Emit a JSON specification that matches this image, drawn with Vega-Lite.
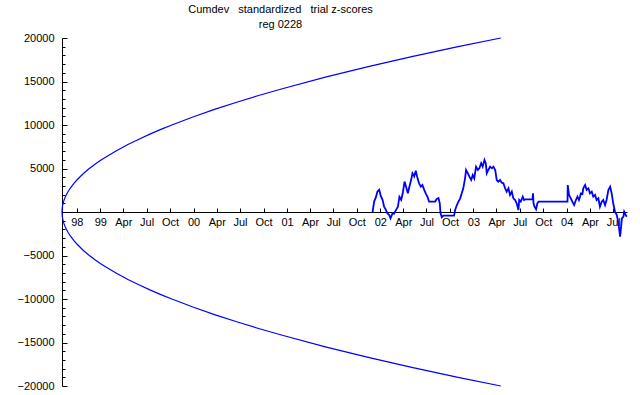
{
  "$schema": "https://vega.github.io/schema/vega-lite/v6.json",
  "width": 565,
  "height": 348,
  "autosize": {"type": "none"},
  "padding": {"left": 62, "top": 38, "right": 13, "bottom": 9},
  "background": "white",
  "config": {
    "view": {"stroke": null},
    "font": "Liberation Sans",
    "axis": {"grid": false, "domainColor": "black", "tickColor": "black", "labelColor": "black", "labelFontSize": 11, "labelFont": "Liberation Sans", "title": null, "labelOverlap": false, "labelFlush": false, "labelBound": false},
    "axisX": {"tickSize": -4, "labelPadding": 8, "offset": -174},
    "axisY": {"labelPadding": 13}
  },
  "title": {
    "text": "Cumdev\u00a0\u00a0 standardized\u00a0\u00a0 trial z-scores",
    "subtitle": "reg 0228",
    "fontSize": 11, "subtitleFontSize": 11, "fontWeight": "normal",
    "font": "Liberation Sans", "subtitleFont": "Liberation Sans",
    "color": "black", "subtitleColor": "black",
    "anchor": "middle", "dx": -64, "offset": 2, "subtitlePadding": 4
  },
  "datasets": {
    "env": [
      {"date": "1998-08-04", "hi": 0, "lo": 0},
      {"date": "1998-08-05", "hi": 483, "lo": -483},
      {"date": "1998-08-07", "hi": 836, "lo": -836},
      {"date": "1998-08-09", "hi": 1079, "lo": -1079},
      {"date": "1998-08-12", "hi": 1365, "lo": -1365},
      {"date": "1998-08-16", "hi": 1672, "lo": -1672},
      {"date": "1998-08-21", "hi": 1989, "lo": -1989},
      {"date": "1998-08-29", "hi": 2413, "lo": -2413},
      {"date": "1998-09-07", "hi": 2814, "lo": -2814},
      {"date": "1998-09-19", "hi": 3273, "lo": -3273},
      {"date": "1998-10-03", "hi": 3738, "lo": -3738},
      {"date": "1998-10-29", "hi": 4475, "lo": -4475},
      {"date": "1998-11-19", "hi": 4991, "lo": -4991},
      {"date": "1998-12-11", "hi": 5480, "lo": -5480},
      {"date": "1999-01-01", "hi": 5910, "lo": -5910},
      {"date": "1999-01-23", "hi": 6328, "lo": -6328},
      {"date": "1999-03-07", "hi": 7075, "lo": -7075},
      {"date": "1999-04-19", "hi": 7750, "lo": -7750},
      {"date": "1999-06-01", "hi": 8371, "lo": -8371},
      {"date": "1999-07-14", "hi": 8949, "lo": -8949},
      {"date": "1999-08-26", "hi": 9492, "lo": -9492},
      {"date": "1999-10-08", "hi": 10006, "lo": -10006},
      {"date": "2000-01-01", "hi": 10950, "lo": -10950},
      {"date": "2000-03-26", "hi": 11819, "lo": -11819},
      {"date": "2000-06-21", "hi": 12647, "lo": -12647},
      {"date": "2000-09-15", "hi": 13416, "lo": -13416},
      {"date": "2000-12-10", "hi": 14142, "lo": -14142},
      {"date": "2001-05-31", "hi": 15494, "lo": -15494},
      {"date": "2001-11-19", "hi": 16736, "lo": -16736},
      {"date": "2002-05-09", "hi": 17886, "lo": -17886},
      {"date": "2002-10-28", "hi": 18972, "lo": -18972},
      {"date": "2003-04-18", "hi": 20000, "lo": -20000}
    ],
    "cum": [
      {"date": "2001-12-02", "z": 0},
      {"date": "2001-12-08", "z": 1200},
      {"date": "2001-12-15", "z": 1700},
      {"date": "2001-12-21", "z": 2350},
      {"date": "2001-12-28", "z": 2550},
      {"date": "2002-01-03", "z": 1850},
      {"date": "2002-01-10", "z": 1400},
      {"date": "2002-01-16", "z": 600},
      {"date": "2002-01-23", "z": 250},
      {"date": "2002-01-29", "z": -150},
      {"date": "2002-02-05", "z": -350},
      {"date": "2002-02-10", "z": -730},
      {"date": "2002-02-18", "z": -150},
      {"date": "2002-02-24", "z": -200},
      {"date": "2002-03-04", "z": 250},
      {"date": "2002-03-11", "z": 600},
      {"date": "2002-03-17", "z": 1750},
      {"date": "2002-03-24", "z": 1400},
      {"date": "2002-03-30", "z": 2150},
      {"date": "2002-04-06", "z": 3500},
      {"date": "2002-04-12", "z": 2900},
      {"date": "2002-04-19", "z": 2150},
      {"date": "2002-04-25", "z": 2900},
      {"date": "2002-05-02", "z": 3700},
      {"date": "2002-05-07", "z": 4450},
      {"date": "2002-05-14", "z": 4100},
      {"date": "2002-05-20", "z": 4750},
      {"date": "2002-05-27", "z": 3870},
      {"date": "2002-06-02", "z": 3300},
      {"date": "2002-06-09", "z": 2900},
      {"date": "2002-06-15", "z": 3100},
      {"date": "2002-06-22", "z": 2550},
      {"date": "2002-06-28", "z": 2150},
      {"date": "2002-07-05", "z": 1750},
      {"date": "2002-07-11", "z": 1200},
      {"date": "2002-08-04", "z": 1200},
      {"date": "2002-08-10", "z": 1500},
      {"date": "2002-08-17", "z": 1600},
      {"date": "2002-08-22", "z": 1000},
      {"date": "2002-08-25", "z": -150},
      {"date": "2002-08-30", "z": -600},
      {"date": "2002-09-05", "z": -420},
      {"date": "2002-10-17", "z": -420},
      {"date": "2002-10-21", "z": 230},
      {"date": "2002-10-28", "z": 800},
      {"date": "2002-11-03", "z": 1200},
      {"date": "2002-11-10", "z": 1570},
      {"date": "2002-11-16", "z": 2150},
      {"date": "2002-11-22", "z": 2720},
      {"date": "2002-11-29", "z": 3870},
      {"date": "2002-12-03", "z": 4830},
      {"date": "2002-12-10", "z": 4450},
      {"date": "2002-12-16", "z": 4060},
      {"date": "2002-12-23", "z": 3680},
      {"date": "2002-12-29", "z": 4250},
      {"date": "2003-01-04", "z": 3870},
      {"date": "2003-01-11", "z": 5210},
      {"date": "2003-01-18", "z": 4830},
      {"date": "2003-01-24", "z": 5020},
      {"date": "2003-01-31", "z": 5600},
      {"date": "2003-02-06", "z": 5210},
      {"date": "2003-02-13", "z": 5980},
      {"date": "2003-02-18", "z": 5600},
      {"date": "2003-02-22", "z": 4450},
      {"date": "2003-02-28", "z": 4830},
      {"date": "2003-03-07", "z": 5210},
      {"date": "2003-03-14", "z": 5020},
      {"date": "2003-03-20", "z": 5210},
      {"date": "2003-03-27", "z": 4830},
      {"date": "2003-04-02", "z": 3680},
      {"date": "2003-04-08", "z": 3490},
      {"date": "2003-04-15", "z": 3680},
      {"date": "2003-04-22", "z": 3370},
      {"date": "2003-04-28", "z": 3300},
      {"date": "2003-05-05", "z": 2720},
      {"date": "2003-05-11", "z": 2340},
      {"date": "2003-05-18", "z": 2720},
      {"date": "2003-05-24", "z": 1960},
      {"date": "2003-05-31", "z": 2340},
      {"date": "2003-06-06", "z": 1570},
      {"date": "2003-06-13", "z": 1380},
      {"date": "2003-06-19", "z": 1000},
      {"date": "2003-06-26", "z": 230},
      {"date": "2003-06-29", "z": 1380},
      {"date": "2003-07-05", "z": 1190},
      {"date": "2003-07-13", "z": 1760},
      {"date": "2003-07-18", "z": 1380},
      {"date": "2003-07-22", "z": 1460},
      {"date": "2003-08-20", "z": 1460},
      {"date": "2003-08-22", "z": 2150},
      {"date": "2003-08-24", "z": 1000},
      {"date": "2003-08-28", "z": 610},
      {"date": "2003-09-03", "z": 310},
      {"date": "2003-09-08", "z": 1000},
      {"date": "2003-09-13", "z": 1190},
      {"date": "2004-01-04", "z": 1190},
      {"date": "2004-01-05", "z": 3100},
      {"date": "2004-01-10", "z": 1960},
      {"date": "2004-01-17", "z": 1570},
      {"date": "2004-01-23", "z": 1190},
      {"date": "2004-01-30", "z": 800},
      {"date": "2004-02-06", "z": 1380},
      {"date": "2004-02-12", "z": 1760},
      {"date": "2004-02-18", "z": 1380},
      {"date": "2004-02-22", "z": 1760},
      {"date": "2004-02-25", "z": 2150},
      {"date": "2004-02-29", "z": 2150},
      {"date": "2004-03-02", "z": 1960},
      {"date": "2004-03-06", "z": 2720},
      {"date": "2004-03-09", "z": 2910},
      {"date": "2004-03-13", "z": 3100},
      {"date": "2004-03-19", "z": 2530},
      {"date": "2004-03-26", "z": 2720},
      {"date": "2004-04-01", "z": 2150},
      {"date": "2004-04-08", "z": 2340},
      {"date": "2004-04-14", "z": 1760},
      {"date": "2004-04-21", "z": 1960},
      {"date": "2004-04-27", "z": 1380},
      {"date": "2004-05-04", "z": 1570},
      {"date": "2004-05-10", "z": 610},
      {"date": "2004-05-17", "z": 1190},
      {"date": "2004-05-23", "z": 1380},
      {"date": "2004-05-30", "z": 800},
      {"date": "2004-06-05", "z": 1380},
      {"date": "2004-06-12", "z": 2530},
      {"date": "2004-06-19", "z": 2910},
      {"date": "2004-06-25", "z": 2150},
      {"date": "2004-07-01", "z": 1000},
      {"date": "2004-07-08", "z": 40},
      {"date": "2004-07-15", "z": -350},
      {"date": "2004-07-19", "z": -920},
      {"date": "2004-07-24", "z": -1880},
      {"date": "2004-07-28", "z": -2840},
      {"date": "2004-08-01", "z": -1690},
      {"date": "2004-08-04", "z": -730},
      {"date": "2004-08-10", "z": -540},
      {"date": "2004-08-13", "z": 40},
      {"date": "2004-08-19", "z": -350},
      {"date": "2004-08-23", "z": -540}
    ]
  },
  "layer": [
    {
      "data": {"name": "env"},
      "mark": {"type": "line", "color": "#0000ff", "strokeWidth": 1.2},
      "encoding": {
        "x": {
          "field": "date", "type": "temporal",
          "scale": {"domain": ["1998-08-04", "2004-08-24"]},
          "axis": {
            "values": [
              {"year": 1998, "month": 10, "date": 1},
              {"year": 1999, "month": 1, "date": 1}, {"year": 1999, "month": 4, "date": 1}, {"year": 1999, "month": 7, "date": 1}, {"year": 1999, "month": 10, "date": 1},
              {"year": 2000, "month": 1, "date": 1}, {"year": 2000, "month": 4, "date": 1}, {"year": 2000, "month": 7, "date": 1}, {"year": 2000, "month": 10, "date": 1},
              {"year": 2001, "month": 1, "date": 1}, {"year": 2001, "month": 4, "date": 1}, {"year": 2001, "month": 7, "date": 1}, {"year": 2001, "month": 10, "date": 1},
              {"year": 2002, "month": 1, "date": 1}, {"year": 2002, "month": 4, "date": 1}, {"year": 2002, "month": 7, "date": 1}, {"year": 2002, "month": 10, "date": 1},
              {"year": 2003, "month": 1, "date": 1}, {"year": 2003, "month": 4, "date": 1}, {"year": 2003, "month": 7, "date": 1}, {"year": 2003, "month": 10, "date": 1},
              {"year": 2004, "month": 1, "date": 1}, {"year": 2004, "month": 4, "date": 1}, {"year": 2004, "month": 7, "date": 1}
            ],
            "tickCount": 100,
            "labelExpr": "(month(datum.value) == 0 || year(datum.value) == 1998) ? timeFormat(datum.value, '%y') : timeFormat(datum.value, '%b')",
            "labelOverlap": false
          }
        },
        "y": {
          "field": "hi", "type": "quantitative",
          "scale": {"domain": [-20000, 20000], "nice": false},
          "axis": {
            "values": [-20000, -19000, -18000, -17000, -16000, -15000, -14000, -13000, -12000, -11000, -10000, -9000, -8000, -7000, -6000, -5000, -4000, -3000, -2000, -1000, 0, 1000, 2000, 3000, 4000, 5000, 6000, 7000, 8000, 9000, 10000, 11000, 12000, 13000, 14000, 15000, 16000, 17000, 18000, 19000, 20000],
            "tickCount": 100,
            "labelExpr": "(datum.value % 5000 === 0 && datum.value !== 0) ? datum.label : ''",
            "format": "d",
            "tickSize": {"condition": {"test": "datum.value % 5000 === 0", "value": -5}, "value": -3},
            "labelOverlap": false
          }
        }
      }
    },
    {
      "data": {"name": "env"},
      "mark": {"type": "line", "color": "#0000ff", "strokeWidth": 1.2},
      "encoding": {
        "x": {"field": "date", "type": "temporal"},
        "y": {"field": "lo", "type": "quantitative"}
      }
    },
    {
      "data": {"name": "cum"},
      "mark": {"type": "line", "color": "#0000ff", "strokeWidth": 1.8},
      "encoding": {
        "x": {"field": "date", "type": "temporal"},
        "y": {"field": "z", "type": "quantitative"}
      }
    }
  ]
}
